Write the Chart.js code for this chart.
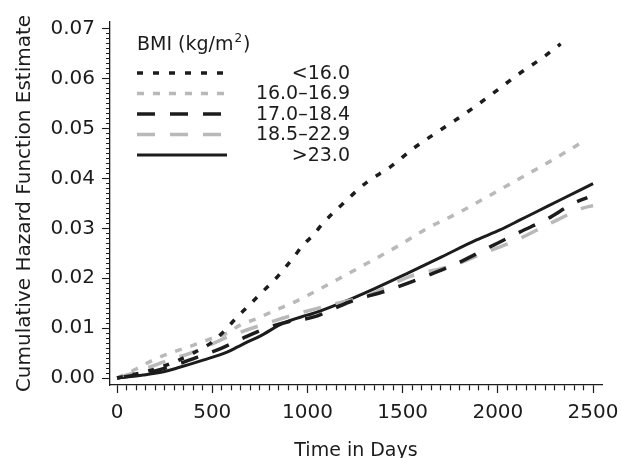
<!DOCTYPE html>
<html>
<head>
<meta charset="utf-8">
<script src="https://cdn.jsdelivr.net/npm/chart.js@4"></script>
<style>
  html, body { margin: 0; padding: 0; background: #fff; }
</style>
</head>
<body>
<canvas id="hazardChart" width="621" height="458"></canvas>
<script>
// (days vs cumulative hazard)
const daysLt16 = [0, 100, 200, 300, 400, 500, 557, 630, 683, 735, 788, 840, 893, 935, 977, 1040, 1065, 1187, 1313, 1434, 1555, 1697, 1838, 1975, 2100, 2237, 2330];
const hazLt16 = [0, 0.0008, 0.0018, 0.0032, 0.005, 0.0072, 0.0092, 0.0122, 0.0142, 0.0162, 0.0182, 0.0202, 0.0226, 0.0246, 0.0267, 0.029, 0.0303, 0.035, 0.0393, 0.0423, 0.046, 0.0497, 0.0533, 0.0571, 0.0607, 0.0643, 0.067];

const days16 = [0, 100, 189, 278, 373, 473, 578, 646, 740, 830, 919, 1003, 1082, 1160, 1313, 1486, 1628, 1786, 1943, 2100, 2258, 2416, 2450];
const haz16 = [0, 0.0018, 0.0036, 0.005, 0.0062, 0.0076, 0.009, 0.0106, 0.012, 0.0136, 0.015, 0.0166, 0.0182, 0.0198, 0.023, 0.0267, 0.03, 0.033, 0.0363, 0.0397, 0.0431, 0.0467, 0.0475];

const days17 = [0, 100, 200, 320, 452, 550, 662, 800, 900, 1029, 1224, 1423, 1607, 1786, 1959, 2117, 2264, 2395, 2470];
const haz17 = [0, 0.0006, 0.0014, 0.0028, 0.0046, 0.006, 0.008, 0.0102, 0.0113, 0.0122, 0.0153, 0.0176, 0.0202, 0.023, 0.0263, 0.0293, 0.032, 0.035, 0.0362];

const days18 = [0, 100, 242, 400, 600, 788, 977, 1134, 1313, 1539, 1765, 1943, 2100, 2274, 2442, 2500];
const haz18 = [0, 0.0012, 0.0032, 0.0052, 0.0085, 0.011, 0.0132, 0.0148, 0.0165, 0.0204, 0.0226, 0.0253, 0.0277, 0.031, 0.034, 0.0346];

const days23 = [0, 137, 250, 315, 452, 578, 636, 700, 751, 872, 998, 1050, 1187, 1350, 1530, 1705, 1888, 2011, 2117, 2185, 2327, 2500];
const haz23 = [0, 0.0006, 0.0013, 0.002, 0.0036, 0.0052, 0.0063, 0.0075, 0.0084, 0.011, 0.0126, 0.0132, 0.0152, 0.0179, 0.0211, 0.0243, 0.0277, 0.0297, 0.0317, 0.033, 0.0357, 0.039];

const bmiGroups = ["<16.0", "16.0\u201316.9", "17.0\u201318.4", "18.5\u201322.9", ">23.0"];
const xTickLabels = [0, 500, 1000, 1500, 2000, 2500];
const yTickLabels = [0, 0.01, 0.02, 0.03, 0.04, 0.05, 0.06, 0.07];

const FONT = '"DejaVu Sans", sans-serif';
const INK = "#1c1c1c";
const GREY = "#b9b9b9";

// minor ticks every 50 days / every 0.001
const xMinorTicks = [];
for (let v = 0; v <= 2500; v += 50) xMinorTicks.push(v);
const yMinorTicks = [];
for (let i = 0; i <= 70; i++) yMinorTicks.push(i / 1000);

function points(xs, ys) {
  return xs.map((x, i) => ({ x: x, y: ys[i] }));
}

function isMajor(v, list) {
  return list.some((m) => Math.abs(m - v) < 1e-9);
}

// legend drawn in the top left corner, like the original
const bmiLegend = {
  id: "bmiLegend",
  afterDatasetsDraw(chart) {
    const ctx = chart.ctx;
    ctx.save();
    ctx.fillStyle = INK;
    ctx.textBaseline = "middle";
    ctx.font = "19px " + FONT;
    const t = "BMI (kg/m";
    ctx.fillText(t, 137, 45);
    let w = ctx.measureText(t).width;
    ctx.font = "12px " + FONT;
    ctx.fillText("2", 137 + w + 1, 39);
    w += ctx.measureText("2").width + 2;
    ctx.font = "19px " + FONT;
    ctx.fillText(")", 137 + w, 45);

    chart.data.datasets.forEach((ds, i) => {
      const y = 73 + i * 20.5;
      ctx.strokeStyle = ds.borderColor;
      ctx.lineWidth = ds.borderWidth;
      ctx.setLineDash(ds.borderDash || []);
      ctx.beginPath();
      ctx.moveTo(137, y);
      ctx.lineTo(227, y);
      ctx.stroke();
      ctx.setLineDash([]);
      ctx.textAlign = "right";
      ctx.fillText(ds.label, 350, y + 1);
      ctx.textAlign = "left";
    });
    ctx.restore();
  },
};

new Chart(document.querySelector("#hazardChart"), {
  type: "line",
  data: {
    datasets: [
      { label: bmiGroups[0], data: points(daysLt16, hazLt16), borderColor: INK, borderWidth: 3.5, borderDash: [6, 10] },
      { label: bmiGroups[1], data: points(days16, haz16), borderColor: GREY, borderWidth: 3.5, borderDash: [7, 9] },
      { label: bmiGroups[2], data: points(days17, haz17), borderColor: INK, borderWidth: 3.5, borderDash: [18, 15] },
      { label: bmiGroups[3], data: points(days18, haz18), borderColor: GREY, borderWidth: 3.5, borderDash: [18, 15] },
      { label: bmiGroups[4], data: points(days23, haz23), borderColor: INK, borderWidth: 3 },
    ],
  },
  options: {
    responsive: false,
    animation: false,
    layout: { padding: { top: 22, right: 19, left: 0, bottom: 0 } },
    elements: {
      point: { radius: 0 },
      line: { cubicInterpolationMode: "monotone", fill: false },
    },
    plugins: {
      legend: { display: false },
      tooltip: { enabled: false },
    },
    scales: {
      x: {
        type: "linear",
        position: "bottom",
        min: -37,
        max: 2547,
        afterFit: (s) => {
          s.height = 73;
          // the "2500" label may hang into the right margin
          s.paddingLeft = 0;
          s.paddingRight = 0;
        },
        afterBuildTicks: (a) => { a.ticks = xMinorTicks.map((v) => ({ value: v })); },
        ticks: {
          color: INK, font: { family: FONT, size: 20 }, padding: 8, maxRotation: 0, autoSkip: false,
          callback: (v) => (isMajor(v, xTickLabels) ? v : ""),
        },
        grid: {
          drawOnChartArea: false, drawTicks: true, tickLength: 8, tickWidth: 1.2, tickColor: INK,
          // minor ticks: only the inner 5px of the mark
          tickBorderDash: (c) => (c.tick && isMajor(c.tick.value, xTickLabels) ? [] : [5, 20]),
        },
        border: { display: true, color: INK, width: 1.3 },
        title: { display: true, text: "Time in Days", color: INK, font: { family: FONT, size: 19 }, padding: { top: 0, bottom: -4 } },
      },
      y: {
        type: "linear",
        position: "left",
        min: -0.0014,
        max: 0.0714,
        afterFit: (s) => { s.width = 110; },
        afterBuildTicks: (a) => { a.ticks = yMinorTicks.map((v) => ({ value: v })); },
        ticks: {
          color: INK, font: { family: FONT, size: 20 }, padding: 7, autoSkip: false,
          callback: (v) => (isMajor(v, yTickLabels) ? v.toFixed(2) : ""),
        },
        grid: {
          drawOnChartArea: false, drawTicks: true, tickLength: 8, tickWidth: 1.1, tickColor: INK,
          // the mark is drawn from the outside in: skip the outer 4px on minor ticks
          tickBorderDash: (c) => (c.tick && isMajor(c.tick.value, yTickLabels) ? [] : [0, 4, 4, 20]),
        },
        border: { display: true, color: INK, width: 1.3 },
        title: { display: true, text: "Cumulative Hazard Function Estimate", color: INK, font: { family: FONT, size: 20 }, padding: { top: 13, bottom: 0 } },
      },
    },
  },
  plugins: [bmiLegend],
});
</script>
</body>
</html>
